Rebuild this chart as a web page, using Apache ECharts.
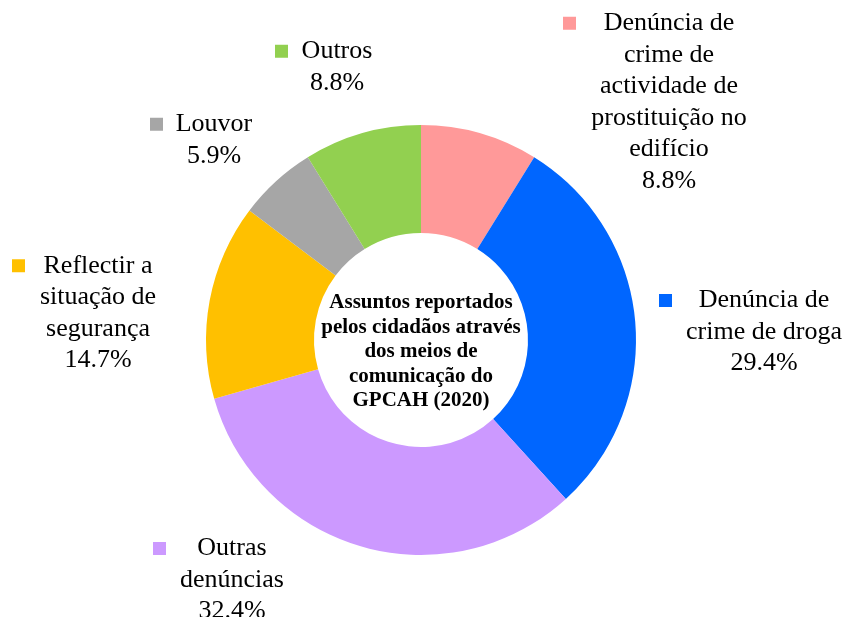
<!DOCTYPE html>
<html>
<head>
<meta charset="utf-8">
<title>Assuntos reportados</title>
<script src="https://cdn.jsdelivr.net/npm/echarts@6/dist/echarts.min.js"></script>
<style>
	html, body { margin: 0; padding: 0; background: #fff; }
	.chart { width: 848px; height: 617px; }
</style>
</head>
<body>
<div class="chart"></div>
<script>
// 数据
var categories = [
	"Denúncia de crime de actividade de prostituição no edifício",
	"Denúncia de crime de droga",
	"Outras denúncias",
	"Reflectir a situação de segurança",
	"Louvor",
	"Outros"
];
// 标签换行
var labelLines = [
	["Denúncia de", "crime de", "actividade de", "prostituição no", "edifício"],
	["Denúncia de", "crime de droga"],
	["Outras", "denúncias"],
	["Reflectir a", "situação de", "segurança"],
	["Louvor"],
	["Outros"]
];
var values = [3, 10, 11, 5, 2, 3];
var centerTitle = ["Assuntos reportados", "pelos cidadãos através", "dos meios de", "comunicação do", "GPCAH (2020)"];

(function () {
	var myChart = echarts.init(document.querySelector(".chart"));
	var myColor = ["#FF9999", "#0066FF", "#CC99FF", "#FFC000", "#A6A6A6", "#92D050"];
	var font = "'Liberation Serif', 'Times New Roman', serif";
	var sp = "\u00a0";
	// 标签中心位置和宽度(图例小方块在最左边)
	var labelPos = [[669, 102], [764, 332], [232, 580], [98, 313], [214, 140], [337, 67]];
	var labelWidth = [212, 210, 158, 172, 128, 124];

	// 富文本样式
	var rich = {
		t: { fontSize: 26, lineHeight: 31.5, color: "#000", fontFamily: font },
		r: { width: 13, height: 13, fontSize: 10, align: "right" }
	};
	myColor.forEach(function (c, i) {
		rich["m" + i] = { width: 13, height: 13, fontSize: 10, backgroundColor: c, align: "left" };
	});

	var data = categories.map(function (name, i) {
		return { name: name, value: values[i], label: { width: labelWidth[i] } };
	});

	var option = {
		color: myColor,
		animation: false,
		textStyle: { fontFamily: font },
		graphic: [
			{
				type: "text",
				x: 421,
				y: 352,
				style: {
					text: centerTitle.join("\n"),
					font: "bold 21px 'Liberation Serif', serif",
					lineHeight: 24.5,
					fill: "#000",
					align: "center",
					verticalAlign: "middle"
				}
			}
		],
		series: [
			{
				type: "pie",
				center: [421, 340],
				radius: [107, 215],
				startAngle: 90,
				percentPrecision: 1,
				data: data,
				itemStyle: { borderWidth: 0 },
				labelLine: { show: false },
				label: {
					show: true,
					position: "outside",
					align: "center",
					overflow: "none",
					fontFamily: font,
					fontSize: 26,
					color: "#000",
					rich: rich,
					formatter: function (params) {
						var lines = labelLines[params.dataIndex];
						var out = ["{m" + params.dataIndex + "|" + sp + "}{t|" + lines[0] + "}{r|" + sp + "}"];
						for (var k = 1; k < lines.length; k++) {
							out.push("{t|" + lines[k] + "}");
						}
						out.push("{t|" + params.percent.toFixed(1) + "%}");
						return out.join("\n");
					}
				},
				labelLayout: function (params) {
					var p = labelPos[params.dataIndex];
					return { x: p[0], y: p[1], align: "center", verticalAlign: "middle" };
				}
			}
		]
	};

	myChart.setOption(option);
	window.addEventListener("resize", function () {
		myChart.resize();
	});
})();
</script>
</body>
</html>
